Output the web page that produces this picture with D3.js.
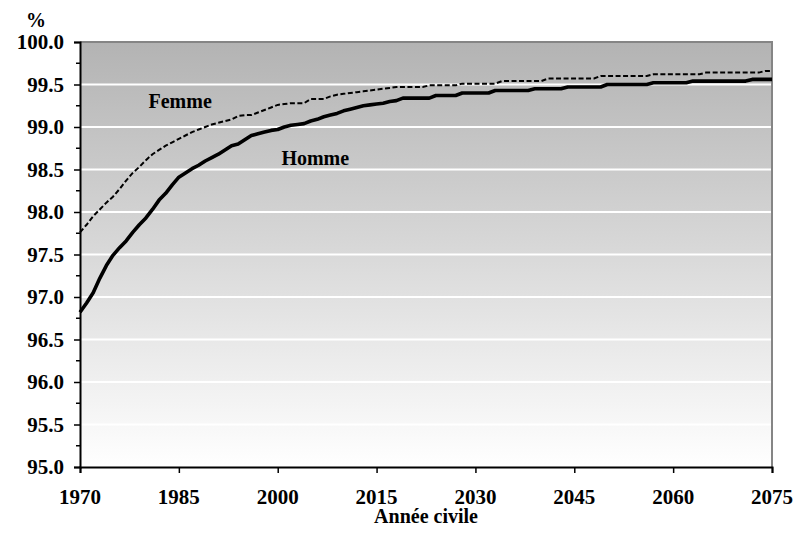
<!DOCTYPE html>
<html>
<head>
<meta charset="utf-8">
<script src="https://cdn.jsdelivr.net/npm/d3@7"></script>
</head>
<body style="margin:0;overflow:hidden">
<svg id="chart" width="796" height="533" style="display:block"></svg>
<script>
// ---- Data ----
const years = d3.range(1970, 2076);

const homme = [
  96.82, 96.93, 97.05, 97.22, 97.37, 97.49, 97.58, 97.66, 97.76, 97.85,
  97.93, 98.03, 98.14, 98.22, 98.32, 98.41, 98.46, 98.51, 98.55, 98.60,
  98.64, 98.68, 98.73, 98.78, 98.80, 98.85, 98.90, 98.92, 98.94, 98.96,
  98.97, 99.00, 99.02, 99.03, 99.04, 99.07, 99.09, 99.12, 99.14, 99.16,
  99.19, 99.21, 99.23, 99.25, 99.26, 99.27, 99.28, 99.30, 99.31, 99.34,
  99.34, 99.34, 99.34, 99.34, 99.37, 99.37, 99.37, 99.37, 99.40, 99.40,
  99.40, 99.40, 99.40, 99.43, 99.43, 99.43, 99.43, 99.43, 99.43, 99.45,
  99.45, 99.45, 99.45, 99.45, 99.47, 99.47, 99.47, 99.47, 99.47, 99.47,
  99.50, 99.50, 99.50, 99.50, 99.50, 99.50, 99.50, 99.52, 99.52, 99.52,
  99.52, 99.52, 99.52, 99.54, 99.54, 99.54, 99.54, 99.54, 99.54, 99.54,
  99.54, 99.54, 99.56, 99.56, 99.56, 99.56
];

const femme = [
  97.76, 97.85, 97.95, 98.03, 98.11, 98.18, 98.27, 98.37, 98.46, 98.53,
  98.61, 98.68, 98.73, 98.78, 98.82, 98.86, 98.90, 98.94, 98.97, 99.00,
  99.03, 99.05, 99.07, 99.09, 99.13, 99.14, 99.14, 99.17, 99.20, 99.23,
  99.26, 99.27, 99.28, 99.28, 99.28, 99.33, 99.33, 99.33, 99.36, 99.38,
  99.39, 99.40, 99.41, 99.42, 99.43, 99.44, 99.45, 99.46, 99.47, 99.47,
  99.47, 99.47, 99.47, 99.49, 99.49, 99.49, 99.49, 99.49, 99.51, 99.51,
  99.51, 99.51, 99.51, 99.51, 99.54, 99.54, 99.54, 99.54, 99.54, 99.54,
  99.54, 99.57, 99.57, 99.57, 99.57, 99.57, 99.57, 99.57, 99.57, 99.60,
  99.60, 99.60, 99.60, 99.60, 99.60, 99.60, 99.60, 99.62, 99.62, 99.62,
  99.62, 99.62, 99.62, 99.62, 99.62, 99.64, 99.64, 99.64, 99.64, 99.64,
  99.64, 99.64, 99.64, 99.64, 99.66, 99.66
];

const xTicks = [1970, 1985, 2000, 2015, 2030, 2045, 2060, 2075];
const yTicks = [95.0, 95.5, 96.0, 96.5, 97.0, 97.5, 98.0, 98.5, 99.0, 99.5, 100.0];
const yMinorTicks = [95.25, 95.75, 96.25, 96.75, 97.25, 97.75, 98.25, 98.75, 99.25, 99.75];
const seriesLabels = ["Homme", "Femme"];
const xTitle = "Année civile";
const yUnit = "%";

// ---- Layout ----
const L = 80, R = 772, T = 42, B = 467;
const FONT = "Liberation Serif";
const svg = d3.select("#chart");

const x = d3.scaleLinear().domain([1970, 2075]).range([L, R]);
const y = d3.scaleLinear().domain([95, 100]).range([B, T]);

// gradient background
const defs = svg.append("defs");
const grad = defs.append("linearGradient")
  .attr("id", "bg").attr("x1", 0).attr("y1", 0).attr("x2", 0).attr("y2", 1);
grad.append("stop").attr("offset", "0%").attr("stop-color", "#b3b3b3");
grad.append("stop").attr("offset", "100%").attr("stop-color", "#ffffff");

svg.append("rect")
  .attr("x", L).attr("y", T).attr("width", R - L).attr("height", B - T)
  .attr("fill", "url(#bg)");

// gridlines
svg.append("g").selectAll("line")
  .data(yTicks.filter(v => v > 95 && v < 100))
  .join("line")
  .attr("x1", L).attr("x2", R)
  .attr("y1", d => y(d)).attr("y2", d => y(d))
  .attr("stroke", "#ffffff").attr("stroke-width", 2);

// plot border top/right
svg.append("path")
  .attr("d", `M${L},${T}H${R}V${B}`)
  .attr("fill", "none").attr("stroke", "#858585").attr("stroke-width", 2);

// lines
const line = d3.line().x((d, i) => x(years[i])).y(d => y(d));

svg.append("path")
  .datum(femme)
  .attr("d", line)
  .attr("fill", "none")
  .attr("stroke", "#000")
  .attr("stroke-width", 2)
  .attr("stroke-dasharray", "5,2.5");

svg.append("path")
  .datum(homme)
  .attr("d", line)
  .attr("fill", "none")
  .attr("stroke", "#000")
  .attr("stroke-width", 3.6)
  .attr("stroke-linejoin", "round");

function styleText(sel, size) {
  sel.attr("font-family", FONT)
    .attr("font-weight", "bold")
    .attr("font-size", size);
}

// y axis (lines only from d3 axis; labels placed with scale)
const yAxis = d3.axisLeft(y).tickValues(yTicks).tickFormat("").tickSize(6);
const gy = svg.append("g").attr("transform", `translate(${L},0)`).call(yAxis);
gy.select(".domain").attr("stroke", "#000").attr("stroke-width", 2);
gy.selectAll(".tick line").attr("stroke", "#000").attr("stroke-width", 1.5);
gy.selectAll(".tick text").remove();

svg.append("g").selectAll("text")
  .data(yTicks).join("text")
  .text(d3.format(".1f"))
  .call(styleText, 21)
  .attr("y", d => y(d) + 7)
  .attr("x", function () { return 64 - this.getComputedTextLength(); });

// minor ticks
svg.append("g").selectAll("line")
  .data(yMinorTicks).join("line")
  .attr("x1", L - 4).attr("x2", L)
  .attr("y1", d => y(d)).attr("y2", d => y(d))
  .attr("stroke", "#000").attr("stroke-width", 1.5);

// x axis
const xAxis = d3.axisBottom(x).tickValues(xTicks).tickFormat("").tickSize(6);
const gx = svg.append("g").attr("transform", `translate(0,${B})`).call(xAxis);
gx.select(".domain").attr("stroke", "#000").attr("stroke-width", 2);
gx.selectAll(".tick line").attr("stroke", "#000").attr("stroke-width", 1.5);
gx.selectAll(".tick text").remove();

svg.append("g").selectAll("text")
  .data(xTicks).join("text")
  .text(d3.format("d"))
  .call(styleText, 21)
  .attr("y", 504)
  .attr("x", function (d) { return x(d) - this.getComputedTextLength() / 2; });

// centred free text
function centred(str, cx, cy, size) {
  const t = svg.append("text").text(str).call(styleText, size).attr("y", cy);
  t.attr("x", cx - t.node().getComputedTextLength() / 2);
  return t;
}

centred(xTitle, (L + R) / 2, 523, 20);
centred(yUnit, 36, 27, 20);
centred(seriesLabels[0], x(2005.7), y(98.55), 20);
centred(seriesLabels[1], x(1985.2), y(99.22), 20);
</script>
</body>
</html>
